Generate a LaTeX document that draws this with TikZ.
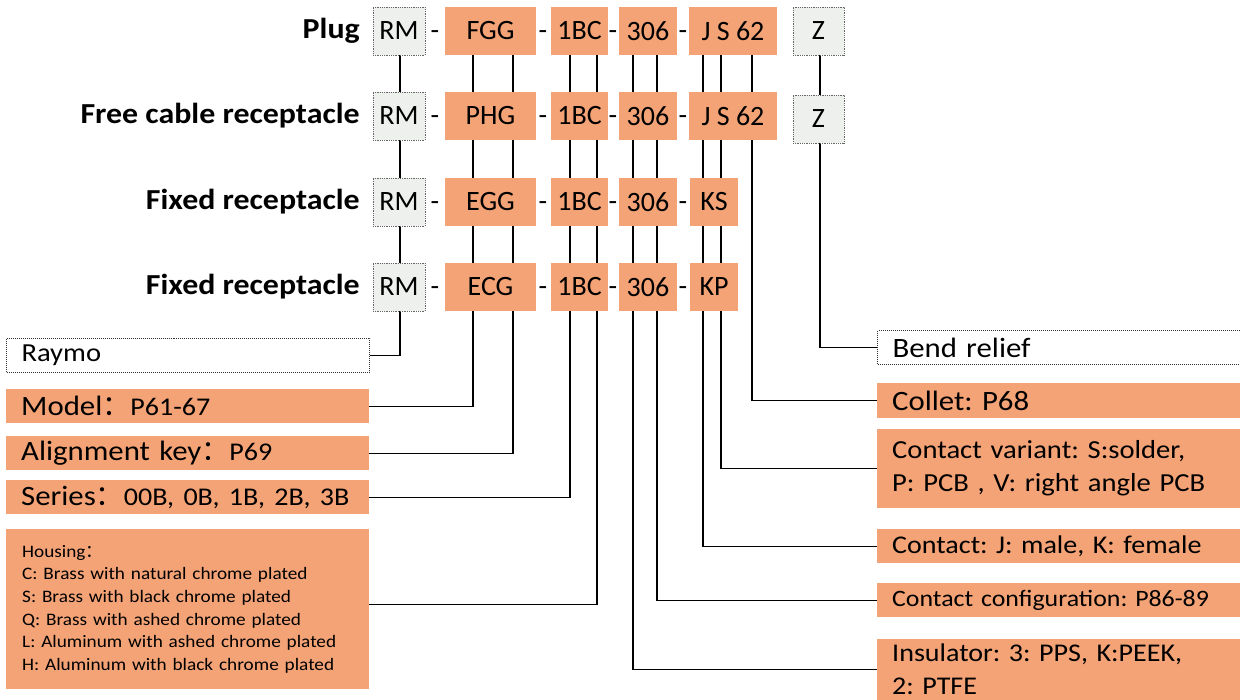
\documentclass[tikz,border=0pt]{standalone}
\usepackage{fontspec}
\setmainfont{Carlito}
\newfontfamily\widefont[FakeStretch=1.1]{Carlito}
\newfontfamily\cjk{Noto Sans CJK SC}
\usetikzlibrary{backgrounds}
\definecolor{boxorange}{RGB}{243,163,118}
\definecolor{boxgrey}{RGB}{238,240,238}
\tikzset{
  code/.style={fill=boxorange,minimum height=48pt,inner sep=0pt,font=\fontsize{28}{30}\selectfont},
  greycode/.style={code,fill=boxgrey,draw=black!60,densely dotted,line width=0.8pt},
  hyph/.style={anchor=base,inner sep=0pt,font=\fontsize{28}{30}\selectfont},
  kind/.style={anchor=east,inner sep=0pt,font=\widefont\bfseries\fontsize{29}{30}\selectfont},
  descr/.style={fill=boxorange,anchor=north west,minimum width=363pt,minimum height=34pt,
    text width=333pt,inner xsep=15pt,inner ysep=0pt,align=left,font=\widefont\fontsize{27}{33}\selectfont},
  dotdescr/.style={descr,fill=white,draw=black!80,densely dotted,line width=1pt},
  link/.style={line width=1.3pt}
}
\newcommand{\fw}{{\cjk ：}}
\newcommand{\smaller}[1]{{\fontsize{25.5}{33}\selectfont #1}}
\newcommand{\fs}[1]{\fontsize{#1}{33}\selectfont}
\frenchspacing
\begin{document}
\begin{tikzpicture}[x=1pt,y=-1pt]
\useasboundingbox (0,0) rectangle (1240,700);
\node[kind] (plug) at (360,31) {Plug};
\node[kind] (free) at (360,116) {Free cable receptacle};
\node[kind] (fixs) at (360,202) {Fixed receptacle};
\node[kind] (fixp) at (360,287) {Fixed receptacle};
\node[greycode,minimum width=52pt] (rm1) at (399,31) {RM};
\node[code,minimum width=91pt] (fgg) at (490.5,31) {FGG};
\node[code,minimum width=57pt] (bc1) at (579.5,31) {1BC};
\node[code,minimum width=58pt] (c1) at (648,31) {306};
\node[code,minimum width=88pt] (js1) at (733,31) {J S 62};
\node[greycode,minimum width=51pt] (z1) at (818.5,31) {Z};
\node[greycode,minimum width=52pt] (rm2) at (399,116) {RM};
\node[code,minimum width=91pt] (phg) at (490.5,116) {PHG};
\node[code,minimum width=57pt] (bc2) at (579.5,116) {1BC};
\node[code,minimum width=58pt] (c2) at (648,116) {306};
\node[code,minimum width=88pt] (js2) at (733,116) {J S 62};
\node[greycode,minimum width=51pt] (z2) at (818.5,119) {Z};
\node[greycode,minimum width=52pt] (rm3) at (399,202) {RM};
\node[code,minimum width=91pt] (egg) at (490.5,202) {EGG};
\node[code,minimum width=57pt] (bc3) at (579.5,202) {1BC};
\node[code,minimum width=58pt] (c3) at (648,202) {306};
\node[code,minimum width=48pt] (ks) at (714,202) {KS};
\node[greycode,minimum width=52pt] (rm4) at (399,287) {RM};
\node[code,minimum width=91pt] (ecg) at (490.5,287) {ECG};
\node[code,minimum width=57pt] (bc4) at (579.5,287) {1BC};
\node[code,minimum width=58pt] (c4) at (648,287) {306};
\node[code,minimum width=48pt] (kp) at (714,287) {KP};
\foreach \y in {40,125,211,296}
  \foreach \x in {435,543,613,683}
    \node[hyph] (dash-\x-\y) at (\x,\y) {-};
\node[dotdescr,font=\widefont\fs{26}] (raymo) at (6,338) {Raymo};
\node[descr,font=\widefont\fs{28}] (model) at (6,389) {Model\fw\smaller{P61-67}};
\node[descr,font=\widefont\fs{28}] (align) at (6,436) {Alignment key\fw\smaller{P69}};
\node[descr,font=\widefont\fs{28}] (series) at (6,480) {Series\fw\smaller{00B, 0B, 1B, 2B, 3B}};
\node[descr,minimum height=160pt,inner xsep=16pt,text width=331pt,font=\widefont\fontsize{17.5}{22.7}\selectfont] (housing) at (6,529)
  {Housing\fw\\C: Brass with natural chrome plated\\S: Brass with black chrome plated\\
   Q: Brass with ashed chrome plated\\L: Aluminum with ashed chrome plated\\H: Aluminum with black chrome plated};
\node[dotdescr,font=\widefont\fs{28}] (bend) at (877,330) {Bend relief};
\node[descr,minimum height=35pt,font=\widefont\fs{28}] (collet) at (877,383) {Collet: P68};
\node[descr,minimum height=79pt,font=\widefont\fs{26}] (variant) at (877,429)
  {Contact variant: S:solder,\\P: PCB , V: right angle PCB};
\node[descr,font=\widefont\fs{25.5}] (contact) at (877,529) {Contact: J: male, K: female};
\node[descr,font=\widefont\fs{23.5}] (config) at (877,583) {Contact configuration: P86-89};
\node[descr,minimum height=61pt,font=\widefont\fs{25.5}] (insul) at (877,639)
  {Insulator: 3: PPS, K:PEEK,\\2: PTFE};
\begin{scope}[on background layer]
\draw[link] (400,0 |- rm1.south) |- (raymo.east);
\draw[link] (473,0 |- fgg.south) |- (model.east);
\draw[link] (513,0 |- fgg.south) |- (align.east);
\draw[link] (570,0 |- bc1.south) |- (series.east);
\draw[link] (597,0 |- bc1.south) |- ([yshift=5pt]housing.east);
\draw[link] (633,0 |- c1.south) |- (insul.east);
\draw[link] (657,0 |- c1.south) |- (config.east);
\draw[link] (703,0 |- js1.south) |- (contact.east);
\draw[link] (721,0 |- js1.south) |- (variant.east);
\draw[link] (752,0 |- js1.south) |- (collet.east);
\draw[link] (820,0 |- z1.south) |- (bend.east);
\end{scope}
\end{tikzpicture}
\end{document}
